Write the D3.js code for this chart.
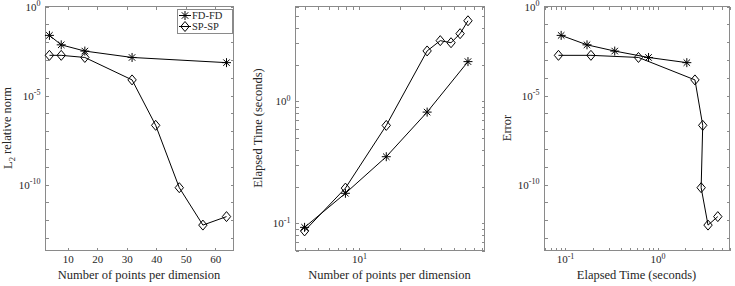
<!DOCTYPE html>
<html><head><meta charset="utf-8">
<script src="https://cdn.jsdelivr.net/npm/d3@7"></script>
<style>
body{margin:0;background:#fff}
svg{display:block}
text{font-family:"Liberation Serif","Times New Roman",serif;fill:#262626}
</style></head>
<body><svg id="c" width="735" height="286"></svg>
<script>
// ---- data ----
const nFD = [4, 8, 16, 32, 64];
const nSP = [4, 8, 16, 32, 40, 48, 56, 64];
const errFD = [2.24e-2, 6.6e-3, 2.95e-3, 1.29e-3, 6.6e-4];
const errSP = [1.7e-3, 1.7e-3, 1.29e-3, 7.1e-5, 2.0e-7, 6.3e-11, 5.0e-13, 1.5e-12];
const timeFD = [0.092, 0.175, 0.349, 0.81, 2.1];
const timeSP = [0.086, 0.193, 0.63, 2.57, 3.12, 3.0, 3.56, 4.54];
const seriesNames = ["FD-FD", "SP-SP"];
const errTickExps = [0, -5, -10];
const timeTickVals = [0.1, 1];
const nLinTicks = [10, 20, 30, 40, 50, 60];
const nLogTickVals = [10];

const svg = d3.select("#c");
const TOP = 6, BOTTOM = 250;
const axCol = "#8a8a8a";
const TL = 3; // tick length

const decades = d3.range(-13, 1).map(e => Math.pow(10, e));
function logMinor(lo, hi) {
  const out = [];
  for (let e = Math.floor(Math.log10(lo)); e <= Math.ceil(Math.log10(hi)); e++) {
    for (let m = 1; m <= 9; m++) { const v = m * Math.pow(10, e); if (v >= lo * 0.999 && v <= hi * 1.001) out.push(v); }
  }
  return out;
}
function sup(sel, labels) {
  sel.selectAll(".tick text").each(function(d) {
    const t = d3.select(this);
    const lab = labels(d);
    t.text(null);
    if (lab === null) return;
    t.append("tspan").text("10");
    t.append("tspan").attr("dy", "-0.55em").attr("font-size", "8px").text(lab);
  });
}
function styleAxis(g) {
  g.select(".domain").remove();
  g.selectAll(".tick line").attr("stroke", axCol).attr("shape-rendering", "crispEdges");
  g.selectAll(".tick text").attr("font-size", "11px").attr("fill", "#262626").attr("font-family", "Liberation Serif, serif");
}
function expLabel(d) {
  const e = Math.round(Math.log10(d));
  return Math.abs(Math.pow(10, e) - d) / d < 1e-6 ? String(e) : null;
}

function panel(cfg) {
  const g = svg.append("g");
  const x = cfg.x, y = cfg.y;
  const [x0, x1] = x.range();
  g.append("rect").attr("x", x0 + 0.5).attr("y", TOP + 0.5).attr("width", x1 - x0).attr("height", BOTTOM - TOP)
    .attr("fill", "none").attr("stroke", axCol).attr("shape-rendering", "crispEdges");
  const gb = g.append("g").attr("transform", `translate(0.5,${BOTTOM + 0.5})`)
    .call(d3.axisBottom(x).tickValues(cfg.xTicks).tickSize(-TL).tickPadding(5).tickFormat(cfg.xFmt || (d => d)));
  styleAxis(gb);
  if (cfg.xSup) sup(gb, cfg.xSup);
  gb.selectAll(".tick text").attr("dy", "0.71em");
  const gt = g.append("g").attr("transform", `translate(0.5,${TOP + 0.5})`)
    .call(d3.axisTop(x).tickValues(cfg.xTicks).tickSize(-TL).tickFormat(""));
  styleAxis(gt);
  const gl = g.append("g").attr("transform", `translate(${x0 + 0.5},0.5)`)
    .call(d3.axisLeft(y).tickValues(cfg.yTicks).tickSize(-TL).tickPadding(5));
  styleAxis(gl);
  sup(gl, cfg.ySup);
  const gr = g.append("g").attr("transform", `translate(${x1 + 0.5},0.5)`)
    .call(d3.axisRight(y).tickValues(cfg.yTicks).tickSize(-TL).tickFormat(""));
  styleAxis(gr);
  g.append("text").attr("x", (x0 + x1) / 2).attr("y", 279).attr("text-anchor", "middle")
    .attr("font-size", "12.5px").text(cfg.xLabel);
  const yl = g.append("text").attr("transform", `translate(${cfg.yLabelX},${(TOP + BOTTOM) / 2}) rotate(-90)`)
    .attr("text-anchor", "middle").attr("font-size", "12.5px");
  cfg.yLabel(yl);
  const line = d3.line().x(d => x(d[0])).y(d => y(d[1]));
  cfg.series.forEach((s, i) => {
    const pts = s.xs.map((v, j) => [v, s.ys[j]]);
    g.append("path").attr("d", line(pts)).attr("fill", "none").attr("stroke", "#000").attr("stroke-width", 1);
    pts.forEach(p => drawMarker(g, x(p[0]), y(p[1]), i));
  });
  return g;
}

function drawMarker(g, cx, cy, type) {
  if (type === 0) {
    const r = 4.5, d = r * 0.72;
    const m = g.append("g").attr("stroke", "#000").attr("stroke-width", 1);
    m.append("line").attr("x1", cx - r).attr("x2", cx + r).attr("y1", cy).attr("y2", cy);
    m.append("line").attr("x1", cx).attr("x2", cx).attr("y1", cy - r).attr("y2", cy + r);
    m.append("line").attr("x1", cx - d).attr("x2", cx + d).attr("y1", cy - d).attr("y2", cy + d);
    m.append("line").attr("x1", cx - d).attr("x2", cx + d).attr("y1", cy + d).attr("y2", cy - d);
  } else {
    const w = 4.2, h = 5;
    g.append("path").attr("d", `M${cx},${cy - h}L${cx + w},${cy}L${cx},${cy + h}L${cx - w},${cy}Z`)
      .attr("fill", "none").attr("stroke", "#000").attr("stroke-width", 1);
  }
}

// ---- panel 1 ----
const x1s = d3.scaleLinear().domain([2.5, 66.2]).range([45, 233]);
const errDomain = [2e-14, 1];
const y1s = d3.scaleLog().domain(errDomain).range([BOTTOM, TOP]);
const p1 = panel({
  x: x1s, y: y1s, xTicks: nLinTicks, yTicks: decades,
  ySup: d => { const e = Math.round(Math.log10(d)); return errTickExps.includes(e) ? String(e) : null; },
  xLabel: "Number of points per dimension", yLabelX: 12,
  yLabel: t => { t.append("tspan").text("L"); t.append("tspan").attr("dy", "0.35em").attr("font-size", "8.5px").text("2");
                 t.append("tspan").attr("dy", "-0.35em").text(" relative norm"); },
  series: [{xs: nFD, ys: errFD}, {xs: nSP, ys: errSP}]
});
const leg = p1.append("g");
leg.append("rect").attr("x", 177.5).attr("y", 9.5).attr("width", 55).attr("height", 24)
  .attr("fill", "#fff").attr("stroke", axCol).attr("shape-rendering", "crispEdges");
seriesNames.forEach((nm, i) => {
  const cy = 15.5 + i * 11;
  leg.append("line").attr("x1", 179).attr("x2", 191).attr("y1", cy).attr("y2", cy).attr("stroke", "#000");
  drawMarker(leg, 185, cy, i);
  leg.append("text").attr("x", 192).attr("y", cy + 3.6).attr("font-size", "10.5px").text(nm);
});

// ---- panel 2 ----
const timeDomain = [0.06, 6];
const x2s = d3.scaleLog().domain([3.4, 84]).range([295, 484]);
const y2s = d3.scaleLog().domain(timeDomain).range([BOTTOM, TOP]);
panel({
  x: x2s, y: y2s, xTicks: logMinor(3.4, 84), yTicks: logMinor(0.06, 6),
  xSup: d => nLogTickVals.includes(d) ? expLabel(d) : null,
  ySup: d => timeTickVals.some(v => Math.abs(v - d) < 1e-9) ? expLabel(d) : null,
  xLabel: "Number of points per dimension", yLabelX: 262,
  yLabel: t => t.text("Elapsed Time (seconds)"),
  series: [{xs: nFD, ys: timeFD}, {xs: nSP, ys: timeSP}]
});

// ---- panel 3 ----
const x3s = d3.scaleLog().domain(timeDomain).range([544, 729]);
const y3s = d3.scaleLog().domain(errDomain).range([BOTTOM, TOP]);
panel({
  x: x3s, y: y3s, xTicks: logMinor(0.06, 6), yTicks: decades,
  xSup: d => timeTickVals.some(v => Math.abs(v - d) < 1e-9) ? expLabel(d) : null,
  ySup: d => { const e = Math.round(Math.log10(d)); return errTickExps.includes(e) ? String(e) : null; },
  xLabel: "Elapsed Time (seconds)", yLabelX: 511,
  yLabel: t => t.text("Error"),
  series: [{xs: timeFD, ys: errFD}, {xs: timeSP, ys: errSP}]
});
</script></body></html>
